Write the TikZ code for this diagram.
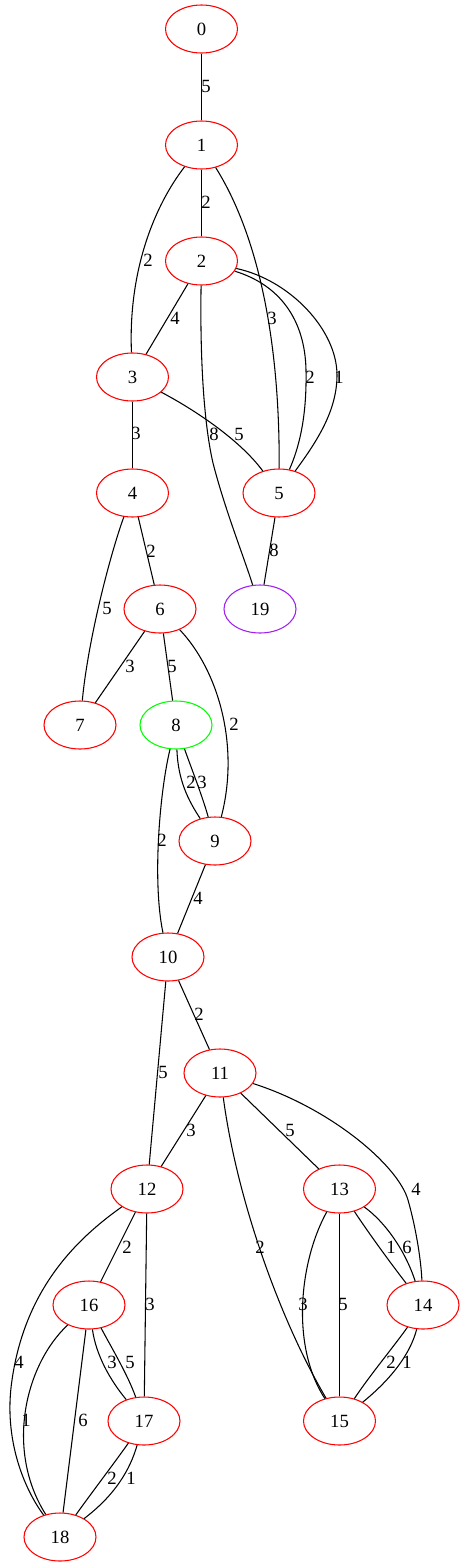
\documentclass[tikz,border=0pt]{standalone}
\usepackage{fontspec}
\setmainfont{Liberation Serif}
\usetikzlibrary{shapes.geometric}
\definecolor{gvpurple}{HTML}{A020F0}
\definecolor{gvgreen}{HTML}{00FF00}
\definecolor{gvred}{HTML}{FF0000}
\begin{document}
\begin{tikzpicture}[x=0.75pt,y=-0.75pt,
  vtx/.style={ellipse, draw=gvred, line width=0.8pt, minimum width=54pt, minimum height=36pt, inner sep=0pt, font=\fontsize{14}{16}\selectfont},
  lbl/.style={inner sep=0pt, font=\fontsize{14}{16}\selectfont},
  link/.style={draw=black, line width=0.8pt}]
\useasboundingbox (0,0) rectangle (464,1567);
% nodes
\node[vtx] (n0) at (201.5,29) {0};
\node[vtx] (n1) at (201.5,145) {1};
\node[vtx] (n2) at (201.5,261) {2};
\node[vtx] (n3) at (132.5,377) {3};
\node[vtx] (n4) at (132.5,493) {4};
\node[vtx] (n5) at (279,493) {5};
\node[vtx] (n6) at (160,609) {6};
\node[vtx, draw=gvpurple] (n19) at (260,609) {19};
\node[vtx] (n7) at (80,725) {7};
\node[vtx, draw=gvgreen] (n8) at (176,725) {8};
\node[vtx] (n9) at (215,841) {9};
\node[vtx] (n10) at (168,957) {10};
\node[vtx] (n11) at (220,1073) {11};
\node[vtx] (n12) at (147,1189) {12};
\node[vtx] (n13) at (339.5,1189) {13};
\node[vtx] (n16) at (89,1305) {16};
\node[vtx] (n14) at (423,1305) {14};
\node[vtx] (n17) at (144,1421) {17};
\node[vtx] (n15) at (339.5,1421) {15};
\node[vtx] (n18) at (60,1537) {18};
% edges
\draw[link] (n0) -- (n1) node[lbl] (l1) at (206,86) {5};
\draw[link] (n1) -- (n2) node[lbl] (l2) at (206,202) {2};
\draw[link] (n1) .. controls (155,205) and (128,270) .. (n3) node[lbl] (l3) at (148,260) {2};
\draw[link] (n2) -- (n3) node[lbl] (l4) at (175,318) {4};
\draw[link] (n1) .. controls (258,235) and (280,340) .. (n5) node[lbl] (l5) at (272,318) {3};
\coordinate (c25a) at (306,370);
\draw[link] (n2) .. controls (280,285) and (305,320) .. (c25a) .. controls (307,420) and (298,450) .. (n5) node[lbl] (l6) at (310,377) {2};
\coordinate (c25b) at (337,375);
\draw[link] (n2) .. controls (290,280) and (337,330) .. (c25b) .. controls (337,410) and (318,440) .. (n5) node[lbl] (l7) at (339,377) {1};
\draw[link] (n3) -- (n4) node[lbl] (l8) at (136,433) {3};
\coordinate (c219) at (213,463);
\draw[link] (n2) .. controls (200,350) and (203,420) .. (c219) .. controls (225,510) and (245,560) .. (n19) node[lbl] (l9) at (214,434) {8};
\draw[link] (n3) .. controls (195,410) and (240,440) .. (n5) node[lbl] (l10) at (239,434) {5};
\draw[link] (n4) -- (n6) node[lbl] (l11) at (151,551) {2};
\draw[link] (n5) -- (n19) node[lbl] (l12) at (274,550) {8};
\draw[link] (n4) .. controls (110,555) and (88,640) .. (n7) node[lbl] (l13) at (107,608) {5};
\draw[link] (n6) -- (n7) node[lbl] (l14) at (130,666) {3};
\draw[link] (n6) -- (n8) node[lbl] (l15) at (172,666) {5};
\draw[link] (n6) .. controls (218,670) and (240,745) .. (n9) node[lbl] (l16) at (234,724) {2};
\draw[link] (n8) .. controls (178,780) and (188,800) .. (n9) node[lbl] (l17) at (191,782) {2};
\draw[link] (n8) .. controls (192,770) and (202,795) .. (n9) node[lbl] (l18) at (202,782) {3};
\draw[link] (n8) .. controls (160,790) and (152,880) .. (n10) node[lbl] (l19) at (162,840) {2};
\draw[link] (n9) -- (n10) node[lbl] (l20) at (198,898) {4};
\draw[link] (n10) -- (n11) node[lbl] (l21) at (199,1014) {2};
\draw[link] (n10) -- (n12) node[lbl] (l22) at (163,1072) {5};
\draw[link] (n11) -- (n12) node[lbl] (l23) at (191,1130) {3};
\draw[link] (n11) -- (n13) node[lbl] (l24) at (290,1130) {5};
\coordinate (c1114) at (408,1200);
\draw[link] (n11) .. controls (330,1108) and (398,1165) .. (c1114) .. controls (416,1228) and (421,1260) .. (n14) node[lbl] (l25) at (416,1189) {4};
\draw[link] (n11) .. controls (237,1200) and (280,1320) .. (n15) node[lbl] (l26) at (260,1247) {2};
\draw[link] (n12) -- (n16) node[lbl] (l27) at (127,1247) {2};
\draw[link] (n13) .. controls (370,1235) and (392,1265) .. (n14) node[lbl] (l28) at (391,1247) {1};
\draw[link] (n13) .. controls (385,1222) and (405,1250) .. (n14) node[lbl] (l29) at (407,1247) {6};
\draw[link] (n12) -- (n17) node[lbl] (l30) at (150,1304) {3};
\draw[link] (n13) .. controls (300,1260) and (290,1345) .. (n15) node[lbl] (l31) at (303,1304) {3};
\draw[link] (n13) -- (n15) node[lbl] (l32) at (343,1304) {5};
\coordinate (c1218) at (12,1380);
\draw[link] (n12) .. controls (75,1240) and (25,1290) .. (c1218) .. controls (3,1440) and (25,1490) .. (n18) node[lbl] (l33) at (19,1362) {4};
\draw[link] (n16) .. controls (96,1355) and (110,1380) .. (n17) node[lbl] (l34) at (112,1362) {3};
\draw[link] (n16) .. controls (110,1345) and (128,1375) .. (n17) node[lbl] (l35) at (130,1362) {5};
\draw[link] (n14) .. controls (395,1345) and (370,1375) .. (n15) node[lbl] (l36) at (391,1362) {2};
\draw[link] (n14) .. controls (410,1355) and (390,1380) .. (n15) node[lbl] (l37) at (407,1362) {1};
\draw[link] (n16) .. controls (25,1365) and (5,1450) .. (n18) node[lbl] (l38) at (26,1420) {1};
\draw[link] (n16) -- (n18) node[lbl] (l39) at (83,1420) {6};
\draw[link] (n17) .. controls (115,1462) and (90,1495) .. (n18) node[lbl] (l40) at (112,1478) {2};
\draw[link] (n17) .. controls (130,1470) and (115,1495) .. (n18) node[lbl] (l41) at (131,1478) {1};
\end{tikzpicture}
\end{document}
